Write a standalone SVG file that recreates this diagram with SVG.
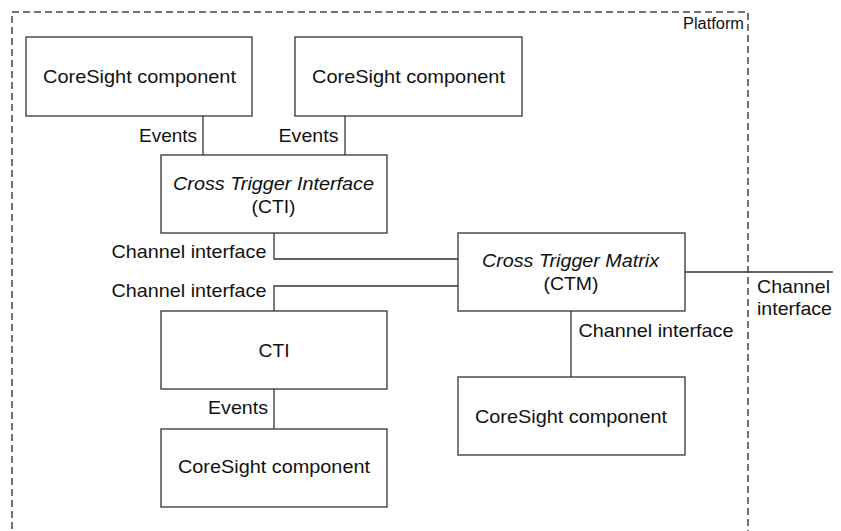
<svg xmlns="http://www.w3.org/2000/svg" width="841" height="531" viewBox="0 0 841 531">
<style>
.box{fill:#fff;stroke:#333;stroke-width:1.3}
.ln{fill:none;stroke:#333;stroke-width:1.3}
.plat{fill:none;stroke:#444;stroke-width:1.5;stroke-dasharray:7 4}
text{font-family:"Liberation Sans",Arial,sans-serif;font-size:19px;fill:#111}
.c{text-anchor:middle}
.e{text-anchor:end}
.i{font-style:italic}
</style>
<rect width="841" height="531" fill="#fff"/>
<g id="platform">
<path class="plat" d="M12,540 V12 H748 V540"/>
<text class="e" x="744" y="29" textLength="61" lengthAdjust="spacingAndGlyphs" style="font-size:16px">Platform</text>
</g>
<g id="connectors">
<path class="ln" d="M203,116 V155"/>
<path class="ln" d="M345,116 V155"/>
<path class="ln" d="M274,233 V259 H458"/>
<path class="ln" d="M458,286 H274 V311"/>
<path class="ln" d="M274,389 V429"/>
<path class="ln" d="M571,311 V377"/>
<path class="ln" d="M685,272 H833"/>
<text class="e" x="197" y="142" textLength="58" lengthAdjust="spacingAndGlyphs">Events</text>
<text class="e" x="338.5" y="142" textLength="60" lengthAdjust="spacingAndGlyphs">Events</text>
<text class="e" x="266.5" y="257.5" textLength="155" lengthAdjust="spacingAndGlyphs">Channel interface</text>
<text class="e" x="266.5" y="296.5" textLength="155" lengthAdjust="spacingAndGlyphs">Channel interface</text>
<text class="e" x="268" y="414" textLength="60" lengthAdjust="spacingAndGlyphs">Events</text>
<text x="578.5" y="336.5" textLength="155" lengthAdjust="spacingAndGlyphs">Channel interface</text>
<text x="757" y="293" textLength="73" lengthAdjust="spacingAndGlyphs">Channel</text>
<text x="757" y="315" textLength="75" lengthAdjust="spacingAndGlyphs">interface</text>
</g>
<g id="cs1">
<rect class="box" x="26" y="37" width="226" height="79"/>
<text class="c" x="139.5" y="83" textLength="193" lengthAdjust="spacingAndGlyphs">CoreSight component</text>
</g>
<g id="cs2">
<rect class="box" x="295" y="37" width="227" height="79"/>
<text class="c" x="408.5" y="83" textLength="193" lengthAdjust="spacingAndGlyphs">CoreSight component</text>
</g>
<g id="cti1">
<rect class="box" x="161" y="155" width="226" height="78"/>
<text class="c i" x="273.5" y="189.5" textLength="201" lengthAdjust="spacingAndGlyphs">Cross Trigger Interface</text>
<text class="c" x="273.5" y="213" textLength="44" lengthAdjust="spacingAndGlyphs">(CTI)</text>
</g>
<g id="ctm">
<rect class="box" x="458" y="233" width="227" height="78"/>
<text class="c i" x="570.5" y="267" textLength="177" lengthAdjust="spacingAndGlyphs">Cross Trigger Matrix</text>
<text class="c" x="571" y="290" textLength="55" lengthAdjust="spacingAndGlyphs">(CTM)</text>
</g>
<g id="cti2">
<rect class="box" x="161" y="311" width="226" height="78"/>
<text class="c" x="274" y="356.5" textLength="31" lengthAdjust="spacingAndGlyphs">CTI</text>
</g>
<g id="cs3">
<rect class="box" x="161" y="429" width="226" height="78"/>
<text class="c" x="274" y="473" textLength="192" lengthAdjust="spacingAndGlyphs">CoreSight component</text>
</g>
<g id="cs4">
<rect class="box" x="458" y="377" width="227" height="78"/>
<text class="c" x="571" y="423" textLength="192" lengthAdjust="spacingAndGlyphs">CoreSight component</text>
</g>
</svg>
